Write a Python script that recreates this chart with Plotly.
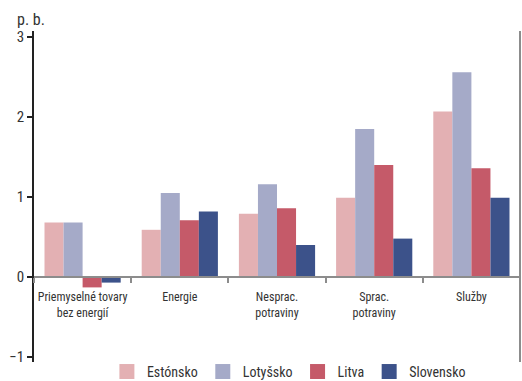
import plotly.graph_objects as go

categories = ["Priemyselné tovary<br>bez energií", "Energie", "Nesprac.<br>potraviny", "Sprac.<br>potraviny", "Služby"]
series_names = ["Estónsko", "Lotyšsko", "Litva", "Slovensko"]
estonsko = [0.68, 0.59, 0.79, 0.99, 2.07]
lotyssko = [0.68, 1.05, 1.16, 1.85, 2.56]
litva = [-0.13, 0.71, 0.86, 1.40, 1.36]
slovensko = [-0.07, 0.82, 0.40, 0.48, 0.99]
y_ticks = [-1, 0, 1, 2, 3]
y_unit = "p. b."

colors = ["#e3b0b3", "#a5aac8", "#c55a69", "#3c528a"]
values = [estonsko, lotyssko, litva, slovensko]

FONT = "Liberation Sans Narrow, Roboto Condensed, Arial Narrow, Roboto, sans-serif"
TEXT = "#333333"

y_lo, y_hi = -1.0625, 3.075

fig = go.Figure()
for name, vals, col in zip(series_names, values, colors):
    fig.add_trace(go.Bar(x=categories, y=vals, name=name, marker=dict(color=col, line=dict(width=0)),
                         showlegend=False))
# legend swatches
for name, col in zip(series_names, colors):
    fig.add_trace(go.Scatter(x=[None], y=[None], mode="markers", name=name,
                             marker=dict(symbol="square", size=15, color=col)))

zero_pos = (0 - y_lo) / (y_hi - y_lo)

fig.update_layout(
    width=522, height=381,
    margin=dict(l=34, r=2, t=31, b=19, autoexpand=False),
    paper_bgcolor="white", plot_bgcolor="white",
    barmode="group", bargap=0.216, bargroupgap=0,
    font=dict(family=FONT, color=TEXT, size=12),
    xaxis=dict(type="category", range=[-0.5, 4.5], anchor="free", position=zero_pos,
               showline=True, linecolor="#8c8c8c", linewidth=2, tickangle=0,
               ticks="outside", tickson="boundaries", ticklen=5, tickcolor="#8c8c8c", tickwidth=1.5,
               ticklabelstandoff=9,
               tickfont=dict(size=12, family=FONT, color=TEXT), showgrid=False, zeroline=False),
    yaxis=dict(range=[y_lo, y_hi], tickvals=y_ticks, ticks="outside", ticklen=5,
               tickcolor="#222222", tickwidth=1.5, showline=True, linecolor="#222222", linewidth=1.5,
               showgrid=False, zeroline=False, tickfont=dict(size=15, family=FONT, color=TEXT)),
    yaxis2=dict(overlaying="y", range=[y_lo, y_hi], tickvals=[1, 2], showgrid=True,
                gridcolor="#bdbdbd", griddash="dash", gridwidth=1.2, showticklabels=False,
                ticks="", zeroline=False, showline=False),
    yaxis3=dict(overlaying="y", range=[y_lo, y_hi], tickvals=[3], showgrid=True,
                gridcolor="#c4c4c4", gridwidth=1.5, showticklabels=False,
                ticks="", zeroline=False, showline=False),
    yaxis4=dict(overlaying="y", range=[y_lo, y_hi], tickvals=y_ticks, showgrid=False,
                showticklabels=False, ticks="inside", ticklen=5, tickcolor="#222222", tickwidth=1.5,
                zeroline=False, showline=False),
    legend=dict(orientation="h", x=0.15, xanchor="left", y=-0.03, yanchor="middle",
                font=dict(size=14, family=FONT, color=TEXT), bgcolor="rgba(0,0,0,0)",
                itemclick=False),
    shapes=[dict(type="line", xref="paper", yref="paper", x0=1, x1=1, y0=0, y1=1,
                 line=dict(color="#8c8c8c", width=2))],
    annotations=[dict(text=y_unit, xref="paper", yref="paper", x=-0.04, y=1.0,
                      xanchor="left", yanchor="bottom", showarrow=False,
                      font=dict(size=16, family=FONT, color=TEXT))],
)

fig.write_html("out.html")
